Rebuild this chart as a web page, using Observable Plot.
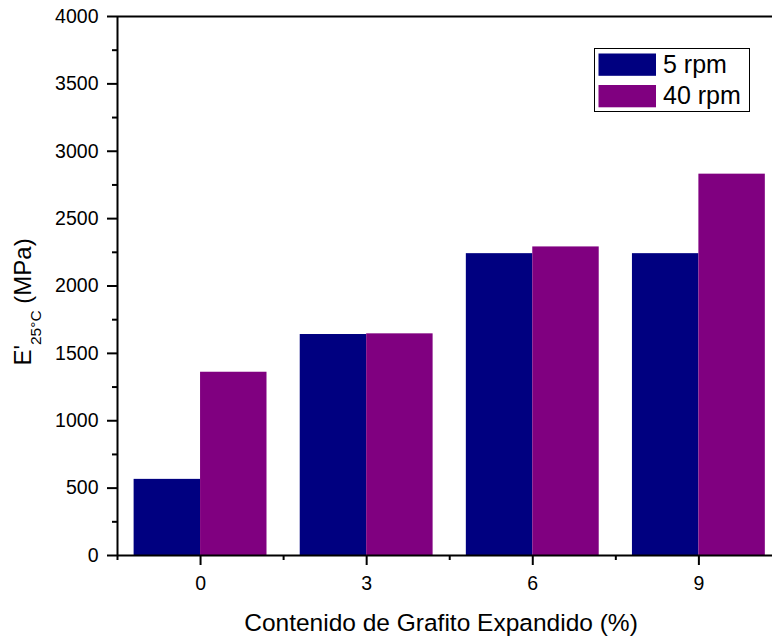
<!DOCTYPE html>
<html>
<head>
<meta charset="utf-8">
<script src="https://cdn.jsdelivr.net/npm/d3@7"></script>
<script src="https://cdn.jsdelivr.net/npm/@observablehq/plot@0.6"></script>
<style>
  html, body { margin: 0; padding: 0; background: #fff; }
  #chart svg { display: block; }
</style>
</head>
<body>
<div id="chart"></div>
<script>
// ---- data ----
const categories = [0, 3, 6, 9];
const series = ["5 rpm", "40 rpm"];
const values5rpm = [565, 1640, 2240, 2240];
const values40rpm = [1360, 1645, 2290, 2830];
const colors = ["#000080", "#800080"];
const yTicks = [0, 500, 1000, 1500, 2000, 2500, 3000, 3500, 4000];
const yMinorTicks = [250, 750, 1250, 1750, 2250, 2750, 3250, 3750];
const xTicks = [0, 3, 6, 9];
const xMinorTicks = [-1.5, 1.5, 4.5, 7.5, 10.5];
const xLabel = "Contenido de Grafito Expandido (%)";

// ---- table ----
const allValues = [values5rpm, values40rpm];
const rows = [];
series.forEach((s, si) => {
  categories.forEach((c, ci) => {
    rows.push({cat: c, series: s, si, value: allValues[si][ci]});
  });
});

const barW = 1.2;
const font = "'Liberation Sans', Arial, sans-serif";

const svg = Plot.plot({
  width: 772,
  height: 638,
  marginLeft: 117,
  marginTop: 16,
  marginBottom: 83,
  marginRight: 0,
  style: {fontFamily: font, fontSize: "19.5px", color: "#000", background: "#fff"},
  x: {domain: [-1.5, 10.5], range: [117, 117 + 12 * 55.37]},
  y: {domain: [0, 4000], range: [555, 16]},
  color: {domain: series, range: colors},
  marks: [
    Plot.rectY(rows, {
      x1: d => d.cat + (d.si - 1) * barW,
      x2: d => d.cat + d.si * barW,
      y1: 0,
      y2: "value",
      fill: "series"
    }),
    Plot.axisY({ticks: yTicks, tickSize: 10, tickPadding: 9, strokeWidth: 2, label: null, tickFormat: d => String(d)}),
    Plot.axisY({ticks: yMinorTicks, tickSize: 5, strokeWidth: 2, tickFormat: () => "", label: null}),
    Plot.axisX({ticks: xTicks, tickSize: 10, tickPadding: 11, strokeWidth: 2, label: null, tickFormat: d => String(d)}),
    Plot.axisX({ticks: xMinorTicks, tickSize: 5, strokeWidth: 2, tickFormat: () => "", label: null}),
    Plot.ruleX([-1.5], {stroke: "#000", strokeWidth: 2}),
    Plot.ruleY([0, 4000], {stroke: "#000", strokeWidth: 2})
  ]
});

const s = d3.select(svg);
// x title
s.append("text")
  .attr("x", 441).attr("y", 631)
  .attr("text-anchor", "middle")
  .attr("font-family", font).attr("font-size", 24.5).attr("fill", "#000")
  .text(xLabel);

// y title with subscript
const yt = s.append("text")
  .attr("transform", "translate(31,302) rotate(-90)")
  .attr("text-anchor", "middle")
  .attr("font-family", font).attr("font-size", 24).attr("fill", "#000");
yt.append("tspan").text("E'");
yt.append("tspan").attr("font-size", 15.5).attr("dy", 10).text("25°C");
yt.append("tspan").attr("dy", -10).text(" (MPa)");

// legend
const lg = s.append("g");
lg.append("rect").attr("x", 594.5).attr("y", 48.5).attr("width", 155).attr("height", 63)
  .attr("fill", "#fff").attr("stroke", "#000").attr("stroke-width", 1);
series.forEach((name, i) => {
  lg.append("rect").attr("x", 598.5).attr("y", 53.5 + i * 31.5).attr("width", 57.5).attr("height", 22.3)
    .attr("fill", colors[i]);
  lg.append("text").attr("x", 663).attr("y", 72.7 + i * 31.5)
    .attr("text-anchor", "start")
    .attr("font-family", font).attr("font-size", 25).attr("fill", "#000").text(name);
});

document.getElementById("chart").appendChild(svg);
</script>
</body>
</html>
